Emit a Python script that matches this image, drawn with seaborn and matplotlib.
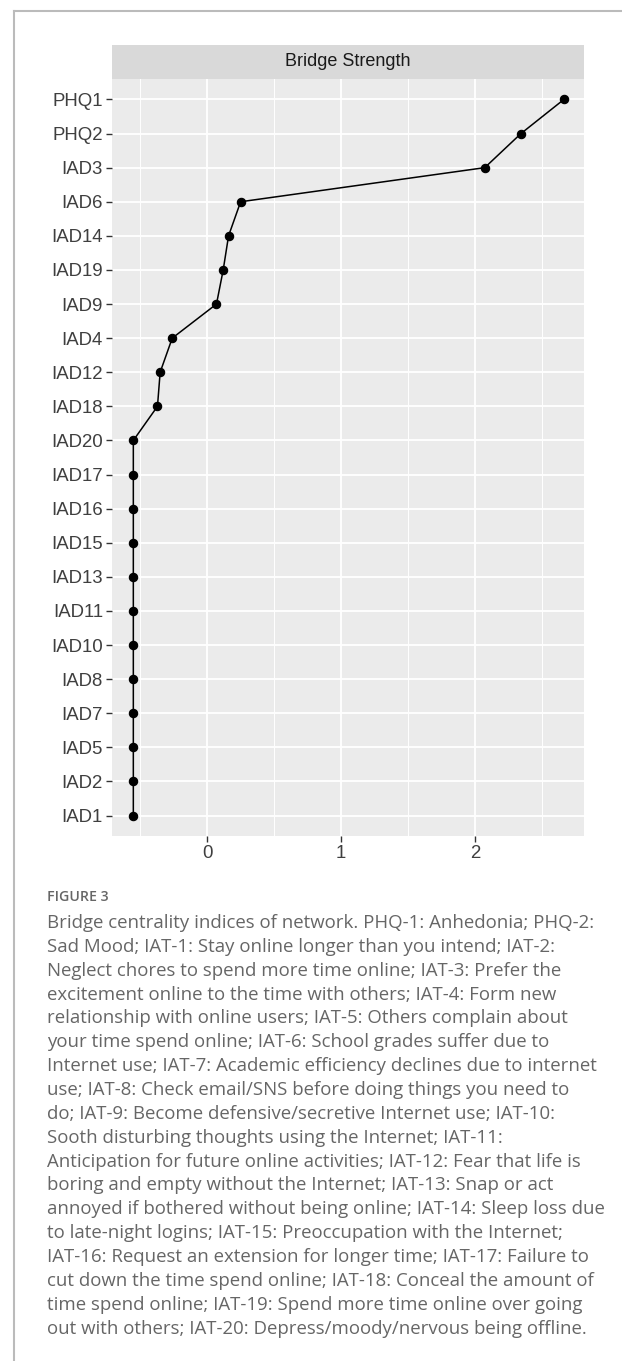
import numpy as np
import pandas as pd
import matplotlib
matplotlib.use("Agg")
import matplotlib.pyplot as plt
import seaborn as sns
from matplotlib.lines import Line2D

# ---- data ----
nodes = ["PHQ1", "PHQ2", "IAD3", "IAD6", "IAD14", "IAD19", "IAD9", "IAD4",
         "IAD12", "IAD18", "IAD20", "IAD17", "IAD16", "IAD15", "IAD13",
         "IAD11", "IAD10", "IAD8", "IAD7", "IAD5", "IAD2", "IAD1"]
bridge_strength = [2.66, 2.34, 2.07, 0.25, 0.16, 0.12, 0.07, -0.26,
                   -0.35, -0.37, -0.55, -0.55, -0.55, -0.55, -0.55,
                   -0.55, -0.55, -0.55, -0.55, -0.55, -0.55, -0.55]
x_ticks = [0, 1, 2]
x_minor = [-0.5, 0.5, 1.5, 2.5]
panel_title = "Bridge Strength"
figure_label = "FIGURE 3"
caption_lines = [
    "Bridge centrality indices of network. PHQ-1: Anhedonia; PHQ-2:",
    "Sad Mood; IAT-1: Stay online longer than you intend; IAT-2:",
    "Neglect chores to spend more time online; IAT-3: Prefer the",
    "excitement online to the time with others; IAT-4: Form new",
    "relationship with online users; IAT-5: Others complain about",
    "your time spend online; IAT-6: School grades suffer due to",
    "Internet use; IAT-7: Academic efficiency declines due to internet",
    "use; IAT-8: Check email/SNS before doing things you need to",
    "do; IAT-9: Become defensive/secretive Internet use; IAT-10:",
    "Sooth disturbing thoughts using the Internet; IAT-11:",
    "Anticipation for future online activities; IAT-12: Fear that life is",
    "boring and empty without the Internet; IAT-13: Snap or act",
    "annoyed if bothered without being online; IAT-14: Sleep loss due",
    "to late-night logins; IAT-15: Preoccupation with the Internet;",
    "IAT-16: Request an extension for longer time; IAT-17: Failure to",
    "cut down the time spend online; IAT-18: Conceal the amount of",
    "time spend online; IAT-19: Spend more time online over going",
    "out with others; IAT-20: Depress/moody/nervous being offline.",
]

df = pd.DataFrame({"node": nodes, "value": bridge_strength})

W, H = 622, 1361
fig = plt.figure(figsize=(W / 100, H / 100), dpi=100)
fig.patch.set_facecolor("white")

def fx(px):
    return px / W

def fy(py):
    return 1 - py / H

# panel
pl, pr, pt, pb = 112, 584, 79, 836
ax = fig.add_axes([fx(pl), fy(pb), fx(pr - pl), (pb - pt) / H])
ax.set_facecolor("#EBEBEB")

sns.pointplot(data=df, x="value", y="node", order=nodes, color="black",
              markers="o", linestyles="-", markersize=6.0, linewidth=1.1,
              ax=ax, zorder=5)

ax.set_xlim(-0.709, 2.81)
ax.set_ylim(len(nodes) - 1 + 0.6, -0.6)
ax.set_xticks(x_ticks)
ax.set_xticklabels([str(t) for t in x_ticks])
ax.set_xticks(x_minor, minor=True)
ax.set_yticks(range(len(nodes)))
ax.set_yticklabels(nodes)
ax.set_xlabel("")
ax.set_ylabel("")
for s in ax.spines.values():
    s.set_visible(False)
ax.set_axisbelow(True)
ax.grid(True, which="major", axis="both", color="white", linewidth=1.3)
ax.grid(True, which="minor", axis="x", color="white", linewidth=0.7)
ax.tick_params(axis="both", which="major", length=4, width=1.0, color="#333333",
               labelcolor="#3F3F3F", labelsize=13.4, pad=2.5)
ax.tick_params(axis="both", which="minor", length=0)
for lab in ax.get_xticklabels() + ax.get_yticklabels():
    lab.set_fontfamily("Liberation Sans")

# strip
sax = fig.add_axes([fx(pl), fy(pt), fx(pr - pl), (pt - 45) / H])
sax.set_facecolor("#D9D9D9")
sax.set_xticks([])
sax.set_yticks([])
for s in sax.spines.values():
    s.set_visible(False)
sax.text(0.5, 0.5, panel_title, ha="center", va="center", fontsize=13.0,
         color="#1A1A1A", family="Liberation Sans", transform=sax.transAxes)

# page border
fig.add_artist(Line2D([fx(14), 1.0], [fy(10.5), fy(10.5)], color="#BBBBBB",
                      linewidth=1.5, transform=fig.transFigure))
fig.add_artist(Line2D([fx(14), fx(14)], [fy(10.5), 0.0], color="#BBBBBB",
                      linewidth=1.5, transform=fig.transFigure))

# caption
fig.text(fx(47), fy(897), figure_label, ha="left", va="center", fontsize=10.2,
         color="#666666", family="Open Sans", fontweight="semibold")
for i, line in enumerate(caption_lines):
    fig.text(fx(47), fy(923 + i * 23.86), line, ha="left", va="center",
             fontsize=13.4, color="#666666", family="Open Sans")

fig.savefig("out.png", dpi=100, facecolor="white")
